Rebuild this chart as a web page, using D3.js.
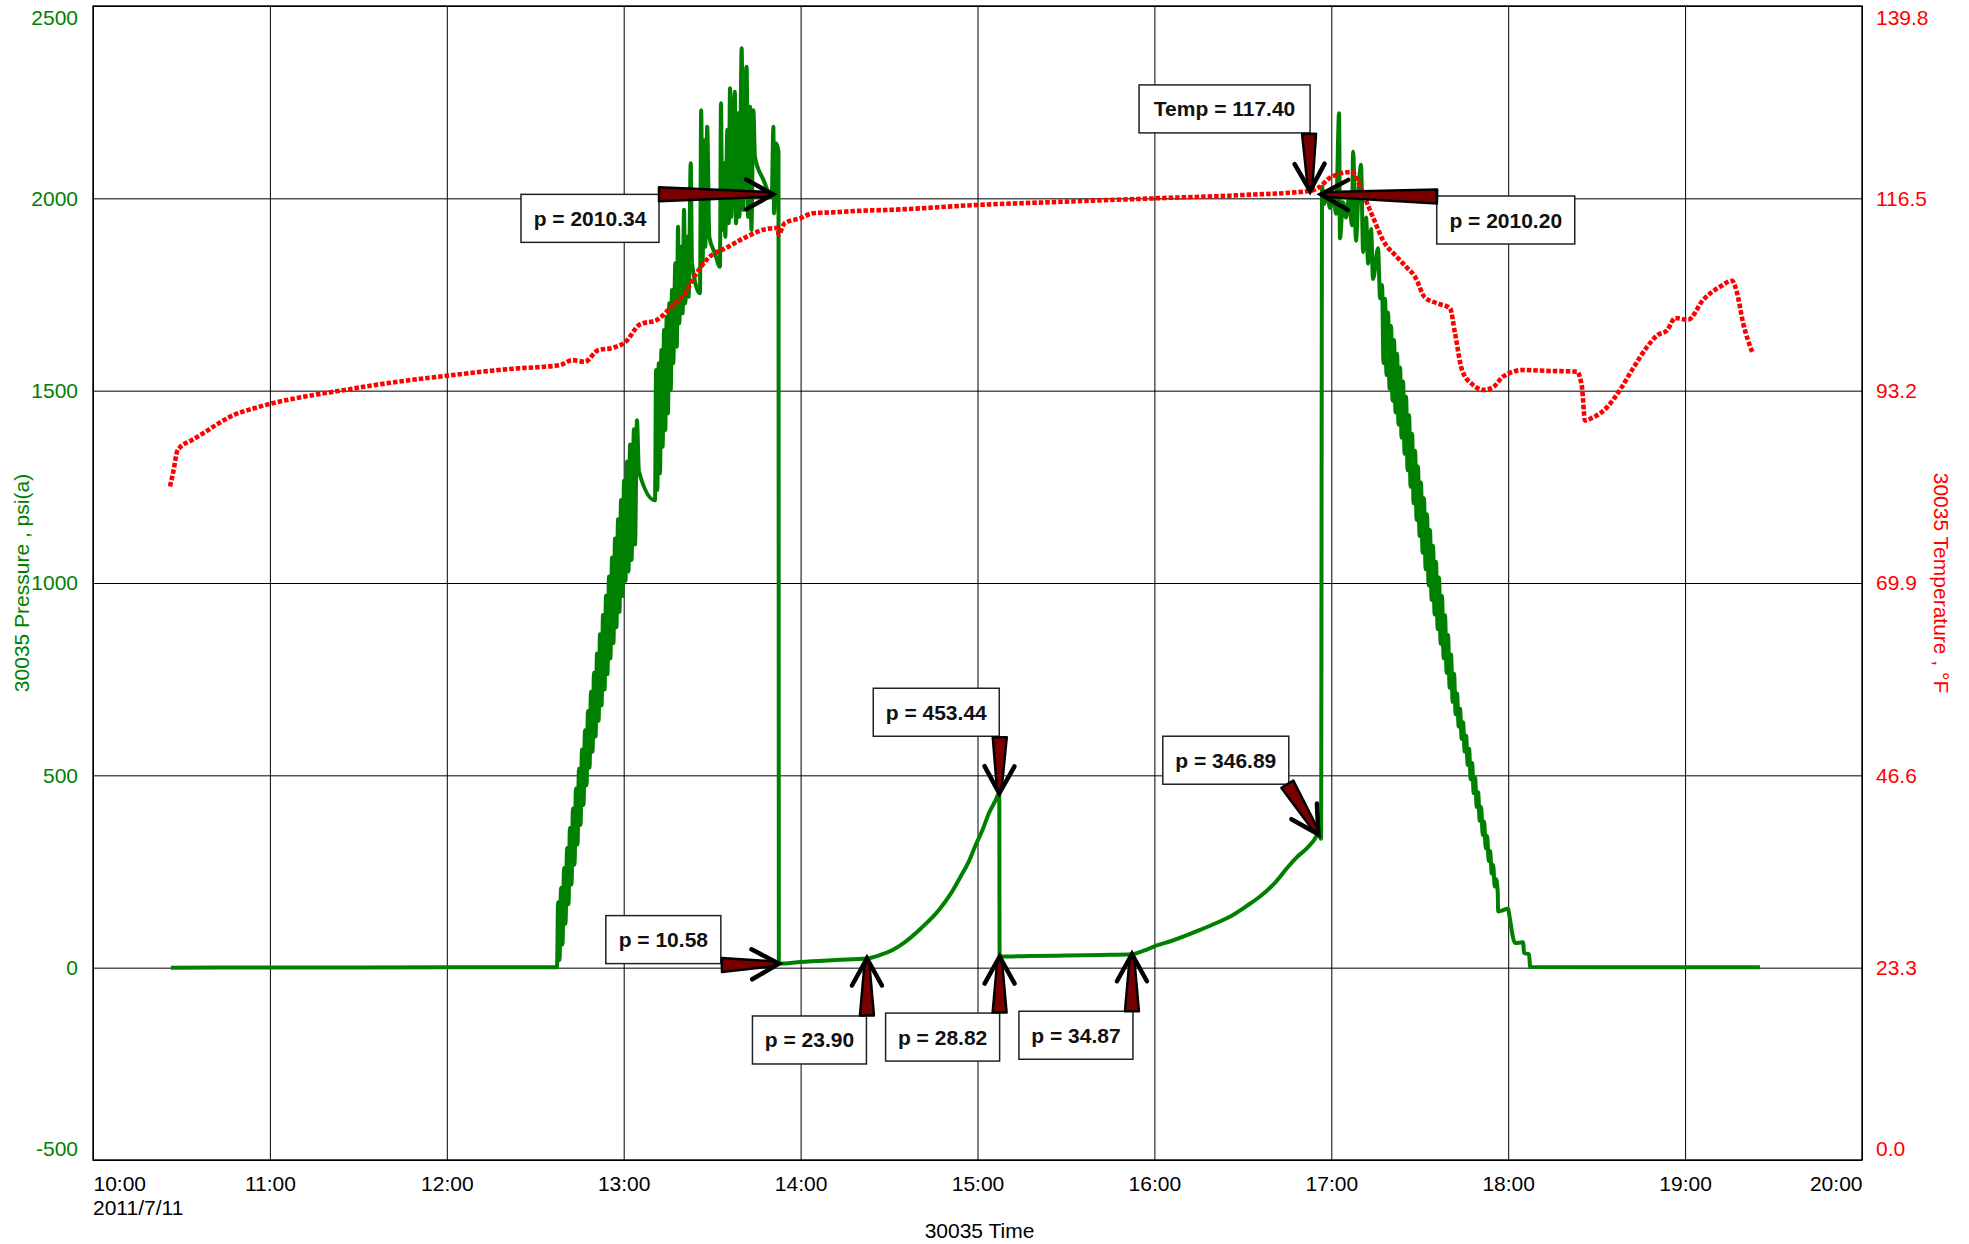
<!DOCTYPE html>
<html>
<head>
<meta charset="utf-8">
<script src="https://cdn.jsdelivr.net/npm/d3@7"></script>
<style>
  html, body { margin: 0; padding: 0; background: #ffffff; }
  svg { display: block; }
  text { font-family: "Liberation Sans", Arial, sans-serif; }
</style>
</head>
<body>
<svg id="chart" width="1969" height="1244"></svg>
<script>
// ---------------- DATA ----------------
// clock time in decimal hours on 2011/7/11
const pressureHours = [
  10.44, 11.0, 12.0, 12.62,
  12.623, 12.629, 12.637, 12.646, 12.654, 12.663, 12.671, 12.680, 12.688, 12.696, 12.705,
  12.713, 12.722, 12.730, 12.739, 12.747, 12.756, 12.764, 12.773, 12.781, 12.790,
  12.798, 12.807, 12.815, 12.824, 12.832, 12.841, 12.849, 12.858, 12.866, 12.875,
  12.883, 12.892, 12.900, 12.908, 12.917, 12.925, 12.934, 12.942, 12.951, 12.959,
  12.968, 12.976, 12.985, 12.993, 13.002, 13.010, 13.019, 13.027, 13.036, 13.044,
  13.058, 13.064, 13.075, 13.086, 13.177,
  13.183, 13.190, 13.198, 13.205, 13.213, 13.220, 13.228, 13.235, 13.243, 13.250,
  13.258, 13.266, 13.273, 13.280, 13.292, 13.300, 13.307, 13.314, 13.326, 13.333,
  13.341, 13.348, 13.360, 13.367, 13.379, 13.386, 13.431, 13.438, 13.446, 13.454,
  13.461, 13.472, 13.484, 13.516, 13.544, 13.550, 13.557, 13.567, 13.574, 13.586,
  13.594, 13.601, 13.608, 13.620, 13.628, 13.635, 13.646, 13.654, 13.667, 13.675,
  13.684, 13.695, 13.703, 13.714, 13.722, 13.733, 13.742, 13.790, 13.837, 13.846,
  13.850, 13.861, 13.875,
  13.877, 14.0, 14.2, 14.375, 14.45, 14.52, 14.582, 14.68, 14.782, 14.85,
  14.905, 14.95, 14.986, 15.03, 15.065, 15.10, 15.123,
  15.125, 15.3, 15.5, 15.7, 15.873,
  15.94, 15.998, 16.1, 16.258, 16.35, 16.444, 16.52, 16.597, 16.68, 16.75,
  16.8, 16.863, 16.9, 16.927, 16.942,
  16.948, 16.959, 16.976, 16.993, 17.010, 17.027, 17.044, 17.049, 17.066, 17.083,
  17.100, 17.117, 17.123, 17.140, 17.151, 17.168, 17.180, 17.197, 17.208, 17.225,
  17.236, 17.264, 17.276,
  17.287, 17.295, 17.304, 17.312, 17.321, 17.329, 17.338, 17.346, 17.355, 17.363,
  17.372, 17.380, 17.389, 17.397, 17.406, 17.414, 17.423, 17.431, 17.440, 17.448,
  17.457, 17.465, 17.474, 17.482, 17.490, 17.499, 17.507, 17.516, 17.524, 17.533,
  17.541, 17.550, 17.558, 17.567, 17.575, 17.584, 17.592, 17.601, 17.609, 17.618,
  17.626, 17.635, 17.643, 17.652, 17.660, 17.669, 17.677, 17.686, 17.694, 17.703,
  17.711, 17.720, 17.728, 17.737, 17.745, 17.754, 17.762, 17.771, 17.779, 17.788,
  17.796, 17.805, 17.813, 17.822, 17.830, 17.839, 17.847, 17.856, 17.864, 17.873,
  17.881, 17.890, 17.898, 17.907, 17.915, 17.924, 17.932, 17.941,
  17.943, 18.000, 18.005, 18.039, 18.084, 18.090, 18.118, 18.124,
  18.5, 19.0, 19.423
];
const pressureValues = [
  0, 0.5, 0.8, 1,
  1, 170, 20, 208, 60, 259, 114, 311, 165, 363, 216,
  414, 268, 466, 320, 517, 371, 567, 423, 617, 474,
  667, 520, 717, 561, 767, 601, 817, 642, 867, 682,
  917, 723, 967, 763, 1017, 804, 1066, 844, 1116, 885,
  1166, 925, 1216, 966, 1266, 1006, 1316, 1030, 1360, 1060,
  1400, 1100, 1423, 1290, 1215,
  1554, 1242, 1571, 1285, 1606, 1354, 1658, 1398, 1692, 1441,
  1727, 1502, 1762, 1571, 1831, 1614, 1926, 1675, 1874, 1701,
  1970, 1727, 1900, 1744, 2091, 1831, 1753, 2229, 1831, 2151,
  1874, 2186, 1900, 1857, 1822, 2247, 1918, 2091, 1900, 2178,
  1935, 2286, 1952, 2178, 2277, 1935, 2221, 1952, 2390, 1970,
  2264, 2342, 1952, 2238, 1918, 2229, 2108, 2048, 2004, 2186,
  1961, 2143, 2121,
  10.58, 15, 20, 23.90, 33, 46, 64, 102, 150, 193,
  237, 275, 315, 360, 402, 433, 453.44,
  28.82, 30.5, 31.5, 33, 34.87,
  44, 55, 70, 98, 116, 137, 160, 185, 220, 259,
  285, 311, 330, 346.89, 335,
  2030, 1985, 2010, 1975, 2015, 1960, 2221, 1896, 1990, 1950,
  2000, 1930, 2121, 1890, 1990, 2087, 1860, 1950, 1830, 1920,
  1790, 1870, 1740,
  1775, 1572, 1739, 1541, 1703, 1505, 1668, 1474, 1632, 1443,
  1596, 1412, 1560, 1378, 1524, 1336, 1484, 1293, 1436, 1250,
  1388, 1207, 1344, 1164, 1303, 1122, 1261, 1079, 1220, 1036,
  1179, 994, 1138, 956, 1097, 918, 1055, 880, 1014, 842,
  966, 804, 916, 766, 865, 728, 814, 691, 764, 659,
  713, 627, 673, 595, 638, 562, 603, 527, 569, 490,
  532, 454, 494, 418, 456, 382, 418, 345, 380, 310,
  342, 277, 303, 244, 267, 211, 230, 194,
  146, 153, 140, 64, 66, 38, 35, 2,
  1, 1, 1
];

const temperatureHours = [
  10.435, 10.455, 10.475, 10.49, 10.55, 10.605, 10.7, 10.79, 10.9, 11.0,
  11.2, 11.4, 11.6, 11.8, 12.0, 12.2, 12.4, 12.55, 12.64, 12.71,
  12.78, 12.855, 12.94, 13.01, 13.09, 13.19, 13.28, 13.35, 13.40, 13.48,
  13.58, 13.70, 13.79, 13.87, 13.875, 13.91, 14.0, 14.07, 14.18, 14.34,
  14.5, 15.0, 15.5, 16.0, 16.5, 16.88, 16.936, 16.993, 17.117, 17.174,
  17.236, 17.293, 17.371, 17.428, 17.473, 17.529, 17.597, 17.671, 17.699, 17.739,
  17.801, 17.858, 17.914, 17.970, 18.084, 18.219, 18.389, 18.417, 18.434, 18.474,
  18.559, 18.632, 18.706, 18.785, 18.842, 18.898, 18.944, 19.017, 19.102, 19.198,
  19.266, 19.294, 19.328, 19.379
];
const temperatureValues = [
  81.6, 83.5, 85.8, 86.3, 87.1, 87.8, 89.1, 90.2, 91.0, 91.6,
  92.5, 93.2, 93.9, 94.5, 95.0, 95.5, 95.9, 96.1, 96.3, 96.9,
  96.7, 98.1, 98.4, 99.1, 101.2, 101.8, 103.6, 105.1, 107.0, 109.3,
  110.5, 111.9, 112.7, 112.9, 112.1, 113.5, 114.1, 114.7, 114.8, 115.0,
  115.1, 115.7, 116.1, 116.5, 116.9, 117.4, 117.9, 119.0, 119.7, 117.3,
  114.2, 111.4, 109.4, 108.1, 107.0, 104.5, 103.8, 103.2, 100.2, 95.7,
  93.9, 93.3, 93.6, 94.9, 95.7, 95.6, 95.5, 93.6, 89.6, 89.9,
  91.2, 93.3, 95.9, 98.5, 99.9, 100.5, 102.0, 101.8, 104.2, 105.8,
  106.5, 105.0, 101.4, 97.9
];

const pressureTicks = [-500, 0, 500, 1000, 1500, 2000, 2500];
const temperatureTicks = [0.0, 23.3, 46.6, 69.9, 93.2, 116.5, 139.8];
const hourTicks = [10, 11, 12, 13, 14, 15, 16, 17, 18, 19, 20];

const annotLabels = ["p = 2010.34", "p = 10.58", "p = 23.90", "p = 453.44", "p = 28.82",
                     "p = 34.87", "Temp = 117.40", "p = 346.89", "p = 2010.20"];
const annotHours  = [13.844, 13.877, 14.375, 15.123, 15.125, 15.873, 16.880, 16.927, 16.942];
const annotValues = [2010.34, 10.58, 23.90, 453.44, 28.82, 34.87, 117.40, 346.89, 2010.20];
const annotSeries = ["p", "p", "p", "p", "p", "p", "T", "p", "p"];

// ---------------- LAYOUT / STYLE ----------------
const W = 1969, H = 1244;
const L = 93, R = 1862, T = 6, B = 1160;
const GREEN = "#008000", RED = "#ff0000", FONT = 21;
// callout layout: box offset from arrow tip [dx, dy, width], arrow tail offset from tip
const annotLayout = [
  { box: [-252, 0, 138],    tail: [-114, 0] },
  { box: [-173, -48, 115],  tail: [-57, 1.5] },
  { box: [-114.5, 57.5, 114], tail: [0, 57] },
  { box: [-126, -105, 126], tail: [0.5, -56] },
  { box: [-114, 56.5, 114], tail: [0, 56] },
  { box: [-113, 57, 114],   tail: [0, 57] },
  { box: [-171, -106, 171], tail: [-1, -57] },
  { box: [-155.6, -98, 126], tail: [-31, -50] },
  { box: [115.7, 1.6, 138], tail: [116, 2] }
];
const BOX_H = 48;

const dayStart = new Date(2011, 6, 11, 0, 0, 0);
const toDate = h => new Date(dayStart.getTime() + h * 3600 * 1000);

const svg = d3.select("#chart");
svg.append("rect").attr("width", W).attr("height", H).attr("fill", "#fff");

const x = d3.scaleTime().domain([toDate(10), toDate(20)]).range([L, R]);
const yP = d3.scaleLinear().domain([-500, 2500]).range([B, T]);
const yT = d3.scaleLinear().domain([0, 139.8]).range([B, T]);

// ---------------- AXES & GRID ----------------
const xAxis = svg.append("g").attr("transform", `translate(0,${B})`)
  .call(d3.axisBottom(x).tickValues(hourTicks.map(toDate))
    .tickSize(-(B - T)).tickPadding(16).tickFormat(d3.timeFormat("%H:%M")));
xAxis.select(".domain").remove();
xAxis.selectAll(".tick line").attr("stroke", "#000").attr("stroke-width", 1);
xAxis.selectAll(".tick text").attr("fill", "#000").attr("font-size", FONT)
  .attr("font-family", "Liberation Sans, Arial, sans-serif")
  .attr("text-anchor", (d, i) => i === 0 ? "start" : (i === hourTicks.length - 1 ? "end" : "middle"));

const yAxisL = svg.append("g").attr("transform", `translate(${L},0)`)
  .call(d3.axisLeft(yP).tickValues(pressureTicks).tickSize(-(R - L)).tickPadding(15).tickFormat(d => String(d)));
yAxisL.select(".domain").remove();
yAxisL.selectAll(".tick line").attr("stroke", "#000").attr("stroke-width", 1);
yAxisL.selectAll(".tick text").attr("fill", GREEN).attr("font-size", FONT)
  .attr("font-family", "Liberation Sans, Arial, sans-serif")
  .attr("transform", d => d === 2500 ? "translate(0,12)" : (d === -500 ? "translate(0,-11)" : null));

const yAxisR = svg.append("g").attr("transform", `translate(${R},0)`)
  .call(d3.axisRight(yT).tickValues(temperatureTicks).tickSize(0).tickPadding(14).tickFormat(d => d.toFixed(1)));
yAxisR.select(".domain").remove();
yAxisR.selectAll(".tick text").attr("fill", RED).attr("font-size", FONT)
  .attr("font-family", "Liberation Sans, Arial, sans-serif")
  .attr("transform", d => d === 139.8 ? "translate(0,12)" : (d === 0 ? "translate(0,-11)" : null));

// axis titles
svg.append("text").attr("transform", `translate(29,${(T + B) / 2}) rotate(-90)`)
  .attr("text-anchor", "middle").attr("fill", GREEN).attr("font-size", FONT)
  .text("30035 Pressure , psi(a)");
svg.append("text").attr("transform", `translate(1934,${(T + B) / 2}) rotate(90)`)
  .attr("text-anchor", "middle").attr("fill", RED).attr("font-size", FONT)
  .text("30035 Temperature , °F");
svg.append("text").attr("x", (L + R) / 2 + 2).attr("y", 1238)
  .attr("text-anchor", "middle").attr("fill", "#000").attr("font-size", FONT)
  .text("30035 Time");
svg.append("text").attr("x", L).attr("y", 1215)
  .attr("text-anchor", "start").attr("fill", "#000").attr("font-size", FONT)
  .text(d3.timeFormat("%Y/%-m/%-d")(toDate(10)));

// ---------------- SERIES ----------------
const pData = pressureHours.map((h, i) => ({ t: toDate(h), v: pressureValues[i] }));
const tData = temperatureHours.map((h, i) => ({ t: toDate(h), v: temperatureValues[i] }));

svg.append("path").datum(pData)
  .attr("fill", "none").attr("stroke", GREEN).attr("stroke-width", 4)
  .attr("stroke-linejoin", "round")
  .attr("d", d3.line().curve(d3.curveMonotoneX).x(d => x(d.t)).y(d => yP(d.v)));

svg.append("path").datum(tData)
  .attr("fill", "none").attr("stroke", RED).attr("stroke-width", 4.6)
  .attr("stroke-dasharray", "4.5,2")
  .attr("d", d3.line().curve(d3.curveMonotoneX).x(d => x(d.t)).y(d => yT(d.v)));

// frame
svg.append("rect").attr("x", L).attr("y", T).attr("width", R - L).attr("height", B - T)
  .attr("fill", "none").attr("stroke", "#000").attr("stroke-width", 1.4);

// ---------------- CALLOUTS ----------------
const ann = svg.append("g");
annotLabels.forEach((label, i) => {
  const tx = x(toDate(annotHours[i]));
  const ty = annotSeries[i] === "T" ? yT(annotValues[i]) : yP(annotValues[i]);
  const lay = annotLayout[i];
  const bx = tx + lay.box[0], by = ty + lay.box[1], bw = lay.box[2];
  const g = ann.append("g");
  g.append("rect").attr("x", bx).attr("y", by).attr("width", bw).attr("height", BOX_H)
    .attr("fill", "#fff").attr("stroke", "#222").attr("stroke-width", 1.5);
  g.append("text").attr("x", bx + bw / 2).attr("y", by + 31.5)
    .attr("text-anchor", "middle").attr("font-weight", "bold").attr("font-size", FONT)
    .attr("fill", "#111").text(label);

  // arrow
  const ax = tx + lay.tail[0], ay = ty + lay.tail[1];
  const dx = tx - ax, dy = ty - ay, len = Math.hypot(dx, dy);
  const ux = dx / len, uy = dy / len, px = -uy, py = ux;
  const tw = 7, nw = 2.5;
  const neck = [tx - ux * 6, ty - uy * 6];
  const shaft = [
    [ax + px * tw, ay + py * tw],
    [neck[0] + px * nw, neck[1] + py * nw],
    [tx, ty],
    [neck[0] - px * nw, neck[1] - py * nw],
    [ax - px * tw, ay - py * tw]
  ];
  g.append("path").attr("d", d3.line()(shaft) + "Z")
    .attr("fill", "#7a0000").attr("stroke", "#000").attr("stroke-width", 2.5)
    .attr("stroke-linejoin", "round");
  const hl = 27, hw = 15;
  const head = [
    [tx - ux * hl + px * hw, ty - uy * hl + py * hw],
    [tx, ty],
    [tx - ux * hl - px * hw, ty - uy * hl - py * hw]
  ];
  g.append("path").attr("d", d3.line()(head))
    .attr("fill", "none").attr("stroke", "#000").attr("stroke-width", 4.5)
    .attr("stroke-linecap", "round").attr("stroke-linejoin", "miter");
});
</script>
</body>
</html>
